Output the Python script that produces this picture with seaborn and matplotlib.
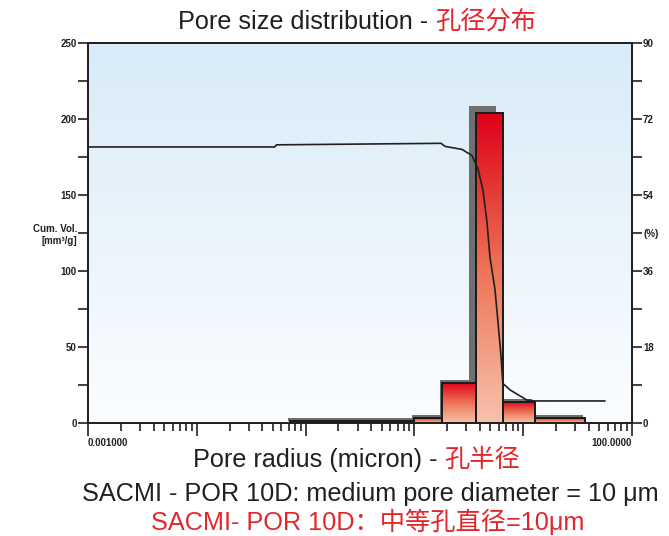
import numpy as np
import pandas as pd
import matplotlib
matplotlib.use('Agg')
import matplotlib.pyplot as plt
import matplotlib.patches as mpatches
import matplotlib.transforms as mtransforms
from matplotlib.colors import LinearSegmentedColormap
from matplotlib.ticker import LogLocator, NullFormatter
import seaborn as sns

sns.set_style('ticks')
plt.rcParams['font.family'] = ['Liberation Sans', 'Noto Sans CJK SC', 'DejaVu Sans']

# 孔半径 bins (micron) and dV (%) on the right axis
bin_edges = [0.072, 1.0, 1.8, 3.7, 6.5, 12.8, 37.0]
dv_pct = [0.5, 1.2, 9.5, 73.4, 5.0, 1.2]

# cumulative volume curve (left axis)
cum_radius = [0.001, 0.052, 0.054, 1.76, 1.91, 2.74, 3.38, 3.85, 4.27, 4.65,
              4.95, 5.5, 5.87, 6.25, 6.5, 7.6, 10.8, 12.8, 56.5]
cum_vol = [181.6, 181.6, 183, 184, 182, 180, 176, 167, 153, 132,
           109, 88, 66, 44, 26, 21.7, 15.1, 14.5, 14.5]

left_ticks = [0, 50, 100, 125, 150, 200, 250]
left_labels = ['0', '50', '100', 'Cum. Vol.\n[mm³/g]', '150', '200', '250']
left_minor = [25, 75, 175, 225]
right_ticks = [0, 18, 36, 45, 54, 72, 90]
right_labels = ['0', '18', '36', '(%)', '54', '72', '90']
right_minor = [9, 27, 63, 81]
x_ticks = [0.001, 0.01, 0.1, 1, 10, 100]
x_labels = ['0.001000', '', '', '', '', '100.0000']

BLACK = '#231f20'
RED = '#e3262c'
FS = 18.2

fig = plt.figure(figsize=(6.69, 5.36), dpi=100)
rect = [88 / 669, 1 - 423 / 536, (632 - 88) / 669, (423 - 43) / 536]

# 배경 그라데이션
bg = fig.add_axes(rect, zorder=-1)
bg_cmap = LinearSegmentedColormap.from_list('bg', ['#fbfdff', '#eaf4fb', '#d8ebf8'])
bg.imshow(np.linspace(0, 1, 256)[::-1, None], aspect='auto', cmap=bg_cmap,
          extent=[0, 1, 0, 1])
bg.axis('off')

ax = fig.add_axes(rect)
ax2 = ax.twinx()
ax.set_xscale('log')
ax.set_xlim(1e-3, 1e2)
ax.set_ylim(0, 250)
ax2.set_ylim(0, 90)
ax.set_zorder(2)
ax2.set_zorder(1)
ax.patch.set_visible(False)
ax2.patch.set_visible(False)

bars = pd.DataFrame({
    'radius': np.sqrt(np.array(bin_edges[:-1]) * np.array(bin_edges[1:])),
    'dv': dv_pct,
})
sns.histplot(data=bars, x='radius', weights='dv', bins=list(np.log10(bin_edges)),
             ax=ax2, stat='count', element='bars', color='#e2001a',
             edgecolor='#1a1a1a', linewidth=1.4, alpha=1)
ax.set_xlim(1e-3, 1e2)
ax2.set_ylim(0, 90)
ax.autoscale(False)
ax2.autoscale(False)

bar_cmap = LinearSegmentedColormap.from_list('bar', ['#f7c3ab', '#ed7355', '#df0019'])
grad = np.linspace(1, 0, 256)[:, None]
to_axes = ax2.transData + ax2.transAxes.inverted()
tallest = max(dv_pct)
for p in list(ax2.patches):
    x0, y0 = p.get_x(), p.get_y()
    w, h = p.get_width(), p.get_height()
    (a0, b0), (a1, b1) = to_axes.transform([(x0, y0), (x0 + w, y0 + h)])
    # 그림자
    off = 5 if h >= tallest else 1.8
    shadow_tr = mtransforms.offset_copy(ax2.transData, fig=fig, x=-off, y=off, units='points')
    sh = mpatches.Rectangle((x0, y0), w, h, transform=shadow_tr,
                            facecolor='#6f6f6f', edgecolor='none', zorder=1)
    ax2.add_patch(sh)
    im = ax2.imshow(grad, aspect='auto', cmap=bar_cmap, extent=[a0, a1, b0, b1],
                    transform=ax2.transAxes, zorder=2)
    im.set_clip_path(p)
    p.set_facecolor('none')
    p.set_zorder(3)

sns.lineplot(x=cum_radius, y=cum_vol, ax=ax, color=BLACK, linewidth=1.2)
ax.set_xlim(1e-3, 1e2)
ax.set_ylim(0, 250)

# 축 눈금
ax.set_xticks(x_ticks, labels=x_labels)
ax.xaxis.set_minor_locator(LogLocator(base=10, subs=np.arange(2, 10)))
ax.xaxis.set_minor_formatter(NullFormatter())
ax.set_yticks(left_ticks, labels=left_labels)
ax.set_yticks(left_minor, minor=True)
ax2.set_yticks(right_ticks, labels=right_labels)
ax2.set_yticks(right_minor, minor=True)
ax.set_xlabel('')
ax.set_ylabel('')
ax2.set_ylabel('')

ax.tick_params(axis='x', which='major', direction='out', length=9, width=1.2,
               labelsize=7, pad=2, colors=BLACK)
ax.tick_params(axis='x', which='minor', direction='out', length=6, width=1.2, colors=BLACK)
ax.tick_params(axis='y', which='both', direction='out', length=7, width=1.2,
               labelsize=7, pad=1, colors=BLACK)
ax2.tick_params(axis='y', which='both', direction='out', length=7, width=1.2,
                labelsize=7, pad=1, colors=BLACK)
for t in ax.get_xticklabels() + ax.get_yticklabels() + ax2.get_yticklabels():
    t.set_fontweight('bold')
xl = ax.get_xticklabels()
xl[0].set_ha('left')
xl[-1].set_ha('right')

for a in (ax, ax2):
    for s in a.spines.values():
        s.set_visible(True)
        s.set_linewidth(1.3)
        s.set_color(BLACK)

# 제목 및 설명 텍스트
t = fig.text(178 / 669, 1 - 22 / 536, 'Pore size distribution - ', fontsize=FS,
             color=BLACK, ha='left', va='center')
ax.annotate('孔径分布', xy=(1, 0), xycoords=t, ha='left', va='bottom',
            fontsize=FS, color=RED, annotation_clip=False)

t2 = fig.text(193 / 669, 1 - 460 / 536, 'Pore radius (micron) - ', fontsize=FS,
              color=BLACK, ha='left', va='center')
ax.annotate('孔半径', xy=(1, 0), xycoords=t2, ha='left', va='bottom',
            fontsize=FS, color=RED, annotation_clip=False)

fig.text(370 / 669, 1 - 494 / 536, 'SACMI - POR 10D: medium pore diameter = 10 μm',
         fontsize=FS, color=BLACK, ha='center', va='center')
fig.text(368 / 669, 1 - 522 / 536, 'SACMI- POR 10D：中等孔直径=10μm',
         fontsize=FS, color=RED, ha='center', va='center')

fig.savefig('out.png', dpi=100)
